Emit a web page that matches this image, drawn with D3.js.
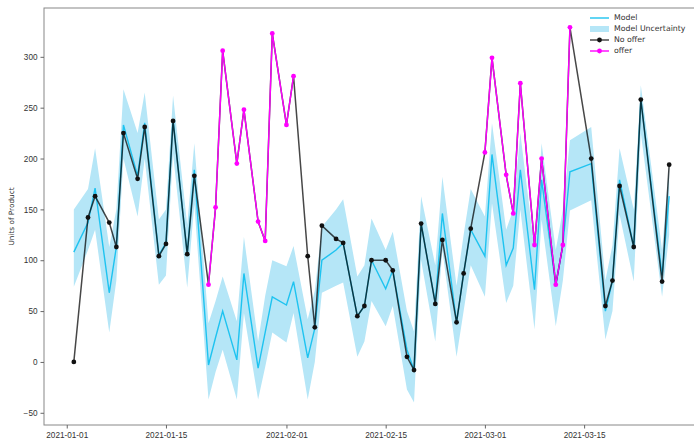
<!DOCTYPE html>
<html>
<head>
<meta charset="utf-8">
<script src="https://cdn.jsdelivr.net/npm/d3@7"></script>
<style>
  html, body { margin: 0; padding: 0; background: #fff; }
  svg { display: block; font-family: "DejaVu Sans", sans-serif; }
</style>
</head>
<body>
<svg id="chart" width="694" height="440"></svg>
<script>
const dates = ["2021-01-02","2021-01-04","2021-01-05","2021-01-07","2021-01-08","2021-01-09","2021-01-11","2021-01-12","2021-01-14","2021-01-15","2021-01-16","2021-01-18","2021-01-19","2021-01-21","2021-01-22","2021-01-23","2021-01-25","2021-01-26","2021-01-28","2021-01-29","2021-01-30","2021-02-01","2021-02-02","2021-02-04","2021-02-05","2021-02-06","2021-02-08","2021-02-09","2021-02-11","2021-02-12","2021-02-13","2021-02-15","2021-02-16","2021-02-18","2021-02-19","2021-02-20","2021-02-22","2021-02-23","2021-02-25","2021-02-26","2021-02-27","2021-03-01","2021-03-02","2021-03-04","2021-03-05","2021-03-06","2021-03-08","2021-03-09","2021-03-11","2021-03-12","2021-03-13","2021-03-16","2021-03-18","2021-03-19","2021-03-20","2021-03-22","2021-03-23","2021-03-26","2021-03-27"];
const actual = [0,142,163,137,113,225,180,231,104,116,237,106,183,76,152,306,195,248,138,119,323,233,281,104,34,134,121,117,45,55,100,100,90,5,-8,136,57,120,39,87,131,206,299,184,146,274,115,200,76,115,329,200,55,80,173,113,258,79,194];
const offer = [0,0,0,0,0,0,0,0,0,0,0,0,0,1,1,1,1,1,1,1,1,1,1,0,0,0,0,0,0,0,0,0,0,0,0,0,0,0,0,0,0,1,1,1,1,1,1,1,1,1,1,0,0,0,0,0,0,0,0];
const model = [108,137,171,68,113,233,183,235,105,117,238,106,189,-3,24,50,2,87,-6,29,64,56,79,4,33,100,110,117,45,55,100,72,90,12,-8,136,58,146,39,87,130,104,204,95,112,189,71,179,75,115,187,195,50,80,179,113,258,85,163];
const modelLo = [74,110,130,29,80,200,143,200,76,85,205,73,155,-37,-10,12,-37,48,-37,-5,29,19,48,-37,0,68,75,78,5,20,60,35,55,-27,-40,100,20,110,5,50,95,64,156,58,75,150,32,140,35,80,149,159,22,50,145,79,225,64,125];
const modelHi = [150,170,210,113,150,268,225,265,140,150,262,135,215,38,60,84,40,123,20,65,100,94,114,42,70,133,150,160,84,95,141,110,128,50,30,163,95,182,75,125,170,143,235,130,150,225,110,215,110,150,218,231,80,115,210,150,272,110,195];
const xTickLabels = ["2021-01-01","2021-01-15","2021-02-01","2021-02-15","2021-03-01","2021-03-15"];
const yTicks = [-50,0,50,100,150,200,250,300];
const legendLabels = ["Model","Model Uncertainty","No offer","offer"];

const parse = d3.utcParse("%Y-%m-%d");
const data = dates.map((d, i) => ({
  date: parse(d), actual: actual[i], offer: offer[i],
  model: model[i], lo: modelLo[i], hi: modelHi[i]
}));

const L = 44, R = 699, T = 8, B = 425;
const x = d3.scaleUtc()
  .domain([new Date(Date.UTC(2020, 11, 28, 19)), new Date(Date.UTC(2021, 2, 31, 5))])
  .range([L, R]);
const y = d3.scaleLinear().domain([-62, 348]).range([B, T]);

const svg = d3.select("#chart");

const COL_BAND = "#b5e6f7";
const COL_MODEL = "#1ec3f0";
const COL_OFFER = "#ff00ff";
const FS = "8.2px";

// band
svg.append("path")
  .datum(data)
  .attr("fill", COL_BAND)
  .attr("d", d3.area().x(d => x(d.date)).y0(d => y(d.lo)).y1(d => y(d.hi)));

// model line
svg.append("path")
  .datum(data)
  .attr("fill", "none")
  .attr("stroke", COL_MODEL)
  .attr("stroke-width", 1.4)
  .attr("d", d3.line().x(d => x(d.date)).y(d => y(d.model)));

// actual (no offer) full line
svg.append("path")
  .datum(data)
  .attr("fill", "none")
  .attr("stroke", "#000")
  .attr("stroke-opacity", 0.72)
  .attr("stroke-width", 1.5)
  .attr("d", d3.line().x(d => x(d.date)).y(d => y(d.actual)));

svg.append("g").selectAll("circle")
  .data(data.filter(d => !d.offer))
  .join("circle")
  .attr("cx", d => x(d.date)).attr("cy", d => y(d.actual))
  .attr("r", 2.4).attr("fill", "#111");

// offer line (only consecutive offer points)
svg.append("path")
  .datum(data.map(d => d.offer ? d : null))
  .attr("fill", "none")
  .attr("stroke", COL_OFFER)
  .attr("stroke-width", 1.4)
  .attr("d", d3.line().defined(d => d !== null).x(d => x(d.date)).y(d => y(d.actual)));

svg.append("g").selectAll("circle")
  .data(data.filter(d => d.offer))
  .join("circle")
  .attr("cx", d => x(d.date)).attr("cy", d => y(d.actual))
  .attr("r", 2.4).attr("fill", COL_OFFER);

// spines
const spineCol = "#888";
svg.append("rect").attr("x", L).attr("y", T).attr("width", R - L).attr("height", B - T)
  .attr("fill", "none").attr("stroke", spineCol).attr("stroke-width", 1);

// x axis
const xAxis = svg.append("g").attr("transform", `translate(0,${B})`)
  .call(d3.axisBottom(x).tickValues(xTickLabels.map(parse)).tickSize(3.5)
    .tickFormat(d3.utcFormat("%Y-%m-%d")));
xAxis.select(".domain").remove();
xAxis.selectAll("line").attr("stroke", "#666");
xAxis.selectAll("text").attr("font-size", FS).attr("fill", "#333").attr("dy", "0.8em");

// y axis
const yAxis = svg.append("g").attr("transform", `translate(${L},0)`)
  .call(d3.axisLeft(y).tickValues(yTicks).tickSize(3.5));
yAxis.select(".domain").remove();
yAxis.selectAll("line").attr("stroke", "#666");
yAxis.selectAll("text").attr("font-size", FS).attr("fill", "#333");

svg.append("text")
  .attr("transform", `translate(12,${(T + B) / 2}) rotate(-90)`)
  .attr("text-anchor", "middle").attr("dominant-baseline", "middle")
  .attr("font-size", "7.3px").attr("fill", "#333")
  .text("Units of Product");

// legend
const lg = svg.append("g");
const ly = [18, 29, 40, 51];
const hx0 = 590, hx1 = 609, tx = 614;
lg.append("line").attr("x1", hx0).attr("x2", hx1).attr("y1", ly[0]).attr("y2", ly[0])
  .attr("stroke", COL_MODEL).attr("stroke-width", 1.4);
lg.append("rect").attr("x", hx0).attr("y", ly[1] - 3).attr("width", hx1 - hx0).attr("height", 6)
  .attr("fill", COL_BAND);
lg.append("line").attr("x1", hx0).attr("x2", hx1).attr("y1", ly[2]).attr("y2", ly[2])
  .attr("stroke", "#000").attr("stroke-opacity", 0.72).attr("stroke-width", 1.5);
lg.append("circle").attr("cx", (hx0 + hx1) / 2).attr("cy", ly[2]).attr("r", 2.4).attr("fill", "#111");
lg.append("line").attr("x1", hx0).attr("x2", hx1).attr("y1", ly[3]).attr("y2", ly[3])
  .attr("stroke", COL_OFFER).attr("stroke-width", 1.4);
lg.append("circle").attr("cx", (hx0 + hx1) / 2).attr("cy", ly[3]).attr("r", 2.4).attr("fill", COL_OFFER);
lg.selectAll("text").data(legendLabels).join("text")
  .attr("x", tx).attr("y", (d, i) => ly[i])
  .attr("dominant-baseline", "middle")
  .attr("font-size", "7.8px").attr("fill", "#333")
  .text(d => d);
</script>
</body>
</html>
